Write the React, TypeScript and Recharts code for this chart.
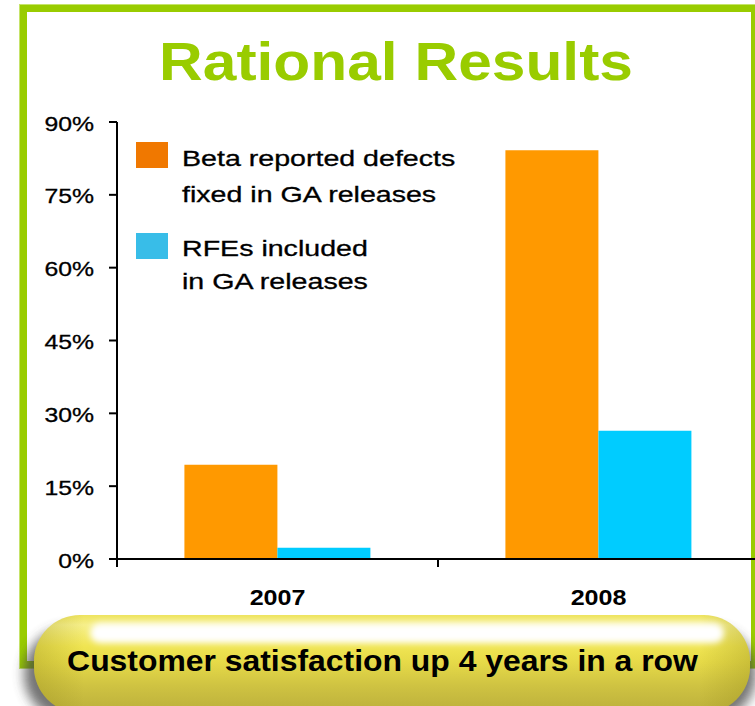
import React from 'react';
import { BarChart, Bar, XAxis, YAxis, Legend } from 'recharts';

const years = ['2007', '2008'];
const betaDefectsFixed = [19.4, 84.2];
const rfesIncluded = [2.3, 26.4];
const yTicks = [0, 15, 30, 45, 60, 75, 90];

const seriesNames = {
  beta: ['Beta reported defects', 'fixed in GA releases'],
  rfe: ['RFEs included', 'in GA releases'],
};

const data = years.map((year, i) => ({
  year,
  beta: betaDefectsFixed[i],
  rfe: rfesIncluded[i],
}));

const FONT = '"Liberation Sans", Arial, sans-serif';
const GREEN = '#99CC00';

function YTick(props: any) {
  const { x, y, payload } = props;
  return (
    <g transform={`translate(${x},${y + 8.5}) scale(1.18,1)`}>
      <text x={0} y={0} textAnchor="end" fontFamily={FONT} fontSize={21} fill="#000" stroke="#000" strokeWidth={0.3}>
        {`${payload.value}%`}
      </text>
    </g>
  );
}

// year label at the band centre, plus a small tick at the band's left edge
function YearTick(props: any) {
  const { x, y, payload, width, visibleTicksCount } = props;
  const band = width && visibleTicksCount ? width / visibleTicksCount : 0;
  const edge = x - band / 2;
  return (
    <g>
      {band > 0 && <line x1={edge} x2={edge} y1={y} y2={y + 8} stroke="#000" strokeWidth={2} />}
      <g transform={`translate(${x},${y + 46}) scale(1.14,1)`}>
        <text x={0} y={0} textAnchor="middle" fontFamily={FONT} fontWeight="bold" fontSize={22} fill="#000">
          {payload.value}
        </text>
      </g>
    </g>
  );
}

function LegendBox() {
  const rows = [
    { color: '#F07800', lines: seriesNames.beta, top: 12, base: [36, 72] },
    { color: '#38BDE8', lines: seriesNames.rfe, top: 103, base: [126, 159] },
  ];
  return (
    <svg width={400} height={175}>
      {rows.map((r) => (
        <g key={r.color}>
          <rect x={16} y={r.top} width={32} height={26} fill={r.color} />
          {r.lines.map((line, i) => (
            <g key={line} transform={`translate(62,${r.base[i]}) scale(1.33,1)`}>
              <text x={0} y={0} fontFamily={FONT} fontSize={21.5} fill="#000" stroke="#000" strokeWidth={0.3}>
                {line}
              </text>
            </g>
          ))}
        </g>
      ))}
    </svg>
  );
}

export default function App() {
  return (
    <div style={{ position: 'absolute', left: 0, top: 0, width: 755, height: 706, overflow: 'hidden', background: '#fff' }}>
      <svg width={755} height={706} style={{ position: 'absolute', left: 0, top: 0 }}>
        <rect x={23} y={8} width={732} height={657} fill="#fff" stroke={GREEN} strokeWidth={8} />
        <rect x={19.5} y={4.5} width={739} height={664} fill="none" stroke="#C6E46A" strokeWidth={1} />
      </svg>

      <div style={{ position: 'absolute', left: 0, top: 0 }}>
        <BarChart
          width={760}
          height={706}
          data={data}
          margin={{ top: 122, right: 1, bottom: 146, left: 0 }}
          barCategoryGap="21%"
          barGap={0}
        >
          <XAxis
            dataKey="year"
            height={1}
            axisLine={{ stroke: '#000', strokeWidth: 2 }}
            tickLine={false}
            tickSize={0}
            tickMargin={0}
            tick={YearTick}
            interval={0}
          />
          <YAxis
            width={117}
            domain={[0, 90]}
            ticks={yTicks}
            axisLine={{ stroke: '#000', strokeWidth: 2 }}
            tickLine={{ stroke: '#000', strokeWidth: 2 }}
            tickSize={8}
            tickMargin={15}
            tick={YTick}
          />
          <Legend
            layout="horizontal"
            align="center"
            verticalAlign="middle"
            content={LegendBox}
            wrapperStyle={{ position: 'absolute', left: 120, top: 130, width: 400, height: 175 }}
          />
          <Bar dataKey="beta" fill="#FF9900" isAnimationActive={false} />
          <Bar dataKey="rfe" fill="#00CCFF" isAnimationActive={false} />
        </BarChart>
      </div>

      <svg width={755} height={706} style={{ position: 'absolute', left: 0, top: 0, pointerEvents: 'none' }}>
        <defs>
          <linearGradient id="pillV" x1="0" y1="0" x2="0" y2="1">
            <stop offset="0%" stopColor="#EEE45E" />
            <stop offset="10%" stopColor="#F6EF8A" />
            <stop offset="32%" stopColor="#F0E552" />
            <stop offset="48%" stopColor="#E6DA48" />
            <stop offset="72%" stopColor="#CFC342" />
            <stop offset="100%" stopColor="#BBAF3B" />
          </linearGradient>
          <linearGradient id="pillH" x1="0" y1="0" x2="1" y2="0">
            <stop offset="0%" stopColor="#8C8214" stopOpacity={0.3} />
            <stop offset="7%" stopColor="#8C8214" stopOpacity={0} />
            <stop offset="93%" stopColor="#8C8214" stopOpacity={0} />
            <stop offset="100%" stopColor="#8C8214" stopOpacity={0.3} />
          </linearGradient>
          <filter id="blur6" x="-10%" y="-30%" width="120%" height="160%">
            <feGaussianBlur stdDeviation="6" />
          </filter>
          <filter id="blur3" x="-10%" y="-50%" width="120%" height="200%">
            <feGaussianBlur stdDeviation="3" />
          </filter>
        </defs>

        <rect x={24} y={628} width={732} height={92} rx={45} fill="#444" opacity={0.75} filter="url(#blur6)" />
        <rect x={34} y={615} width={716} height={98} rx={46} fill="url(#pillV)" />
        <rect x={34} y={615} width={716} height={98} rx={46} fill="url(#pillH)" />
        <rect x={90} y={623} width={634} height={20} rx={10} fill="#fff" opacity={1} filter="url(#blur3)" />

        <g transform="translate(382.5,671) scale(1.1,1)">
          <text x={0} y={0} textAnchor="middle" fontFamily={FONT} fontWeight="bold" fontSize={29} fill="#000">
            Customer satisfaction up 4 years in a row
          </text>
        </g>

        <g transform="translate(396,80) scale(1.12,1)">
          <text x={0} y={0} textAnchor="middle" fontFamily={FONT} fontWeight="bold" fontSize={54} fill={GREEN}>
            Rational Results
          </text>
        </g>
      </svg>
    </div>
  );
}
